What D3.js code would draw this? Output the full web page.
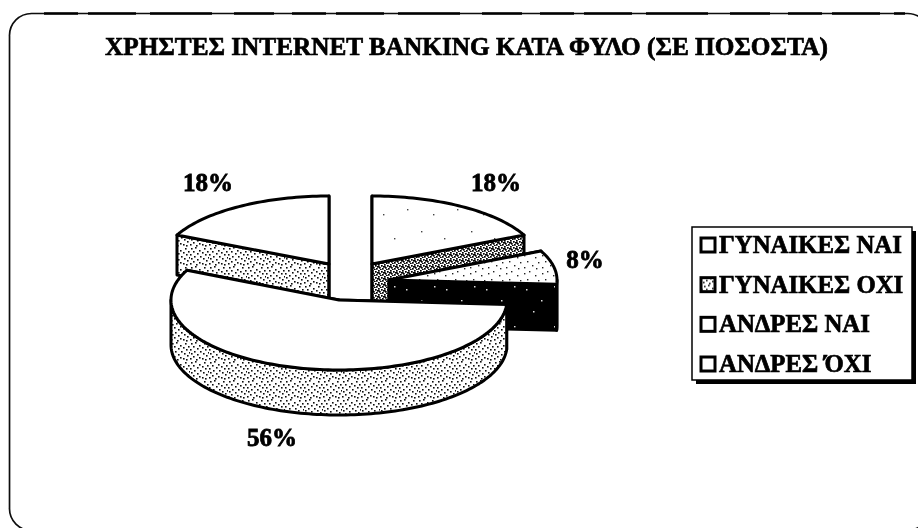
<!DOCTYPE html>
<html><head><meta charset="utf-8">
<script src="https://cdn.jsdelivr.net/npm/d3@7/dist/d3.min.js"></script>
<style>html,body{margin:0;background:#fff;overflow:hidden}svg{display:block}</style>
</head><body><svg id="c" width="918" height="528"></svg>
<script>
const categories = ["ΓΥΝΑΙΚΕΣ ΝΑΙ","ΑΝΔΡΕΣ ΝΑΙ","ΑΝΔΡΕΣ ΌΧΙ","ΓΥΝΑΙΚΕΣ ΟΧΙ"];
const sliceValues = [18, 8, 56, 18];
const sliceLabels = ["18%","8%","56%","18%"];
const legendLabels = ["ΓΥΝΑΙΚΕΣ ΝΑΙ","ΓΥΝΑΙΚΕΣ ΟΧΙ","ΑΝΔΡΕΣ ΝΑΙ","ΑΝΔΡΕΣ ΌΧΙ"];
const titleText = "ΧΡΗΣΤΕΣ INTERNET BANKING ΚΑΤΑ ΦΥΛΟ (ΣΕ ΠΟΣΟΣΤΑ)";

const svg = d3.select("#c");
const FONT = "'Liberation Serif','Times New Roman',serif";
const RX = 168;
// exploded centre and vertical radius / depth per slice
const centres = [[372,264],[389,280],[339,300],[329,264]];
const RYs = [68,68,70,68];
const depths = [40,46,45,40];
const labelPos = [[496,191],[585,268],[272,446],[208,191]];
const wallFill = ["url(#dots2)","url(#blackDots)","url(#dots)","url(#dots)"];
const topFill = ["url(#sparse)","url(#dotsLight)","#fff","#fff"];

const defs = svg.append("defs");
function stipple(id,size,dots,r,col,bg="#fff"){
  const p = defs.append("pattern").attr("id",id).attr("patternUnits","userSpaceOnUse").attr("width",size).attr("height",size);
  p.append("rect").attr("width",size).attr("height",size).attr("fill",bg);
  p.selectAll("rect.d").data(dots).join("rect").attr("class","d")
    .attr("x",d=>d[0]).attr("y",d=>d[1]).attr("width",r).attr("height",r).attr("fill",col);
}
stipple("dots",19,[[1,1],[5,0],[9,3],[14,1],[17,4],[3,4],[7,6],[12,5],[0,7],[15,7],[4,9],[10,9],[18,10],[1,11],[7,12],[13,11],[16,13],[3,14],[9,15],[12,16],[0,16],[6,17],[15,17]],1.6,"#111");
stipple("dots2",6,[[0,0],[3,1],[1,3],[4,4],[2,5],[5,2],[0,2]],1.7,"#000");
stipple("dotsLight",18,[[2,3],[7,1],[13,5],[5,9],[16,10],[10,13],[2,15],[14,16]],1.4,"#222");
stipple("sparse",50,[[7,9],[33,14],[21,31],[44,38]],1.4,"#444");
stipple("blackDots",40,[[6,9],[21,20],[34,6],[13,31]],1.5,"#ddd","#000");
const blur = defs.append("filter").attr("id","scan").attr("x","-5%").attr("y","-5%").attr("width","110%").attr("height","110%");
blur.append("feGaussianBlur").attr("stdDeviation",0.4);

const root = svg.append("g").attr("filter","url(#scan)");

// frame
root.append("rect").attr("x",9.5).attr("y",13.5).attr("width",920).attr("height",517).attr("rx",22)
  .attr("fill","none").attr("stroke","#111").attr("stroke-width",1.7);
root.append("line").attr("x1",44).attr("x2",905).attr("y1",13.5).attr("y2",13.5)
  .attr("stroke","#000").attr("stroke-width",2.6).attr("stroke-dasharray","34,10,48,14,62,22,40,18");

// title
root.append("text").attr("x",105).attr("y",55)
  .attr("textLength",723).attr("lengthAdjust","spacingAndGlyphs")
  .attr("font-family",FONT).attr("font-weight",700).attr("font-size",25.5).attr("fill","#000")
  .attr("stroke","#000").attr("stroke-width",0.7).text(titleText);

// pie
const pie = d3.pie().sort(null).value(d=>d)(sliceValues);
const line = d3.line();
function drawSlice(i){
  const s = pie[i], c = centres[i], a0=s.startAngle, a1=s.endAngle, ry=RYs[i], z=depths[i];
  const pt=(a,dz=0)=>[c[0]+RX*Math.sin(a), c[1]-ry*Math.cos(a)+dz];
  const arcPts=(from,to,dz)=>{const n=Math.max(2,Math.ceil(Math.abs(to-from)*40));
    return d3.range(n+1).map(k=>pt(from+(to-from)*k/n,dz));};
  const g = root.append("g").attr("stroke","#000").attr("stroke-width",3).attr("stroke-linejoin","round");
  [a0,a1].forEach(a=>{
    g.append("path").attr("d",line([c,pt(a),pt(a,z),[c[0],c[1]+z]])+"Z").attr("fill",wallFill[i]);
  });
  const w0=Math.max(a0,Math.PI/2), w1=Math.min(a1,Math.PI*1.5);
  if(w1>w0) g.append("path").attr("d",line([...arcPts(w0,w1,0),...arcPts(w1,w0,z)])+"Z").attr("fill",wallFill[i]);
  g.append("path").attr("d",line([c,...arcPts(a0,a1,0)])+"Z").attr("fill",topFill[i]);
}
[3,0,1,2].forEach(drawSlice);

// slice labels
root.append("g").selectAll("text").data(sliceLabels).join("text")
  .attr("x",(d,i)=>labelPos[i][0]).attr("y",(d,i)=>labelPos[i][1]).attr("text-anchor","middle")
  .attr("font-family",FONT).attr("font-weight",700).attr("font-size",25)
  .attr("stroke","#000").attr("stroke-width",0.8).text(d=>d);

// legend
const lx=692, ly=227, lw=220, lh=153;
root.append("rect").attr("x",lx+4).attr("y",ly+4).attr("width",lw).attr("height",lh).attr("fill","#000");
root.append("rect").attr("x",lx).attr("y",ly).attr("width",lw).attr("height",lh).attr("fill","#fff").attr("stroke","#000").attr("stroke-width",1.5);
const ys = d3.scalePoint().domain(legendLabels).range([245,364]);
const keyFill = ["#fff","url(#dots)","#fff","#fff"];
const lg = root.append("g").selectAll("g").data(legendLabels).join("g").attr("transform",d=>`translate(0,${ys(d)})`);
lg.append("rect").attr("x",701).attr("y",-7).attr("width",14).attr("height",14).attr("fill",(d,i)=>keyFill[i]).attr("stroke","#000").attr("stroke-width",3);
lg.append("text").attr("x",719).attr("y",8).attr("font-family",FONT).attr("font-weight",700).attr("font-size",24.8)
  .attr("stroke","#000").attr("stroke-width",0.7).text(d=>d);
</script></body></html>
